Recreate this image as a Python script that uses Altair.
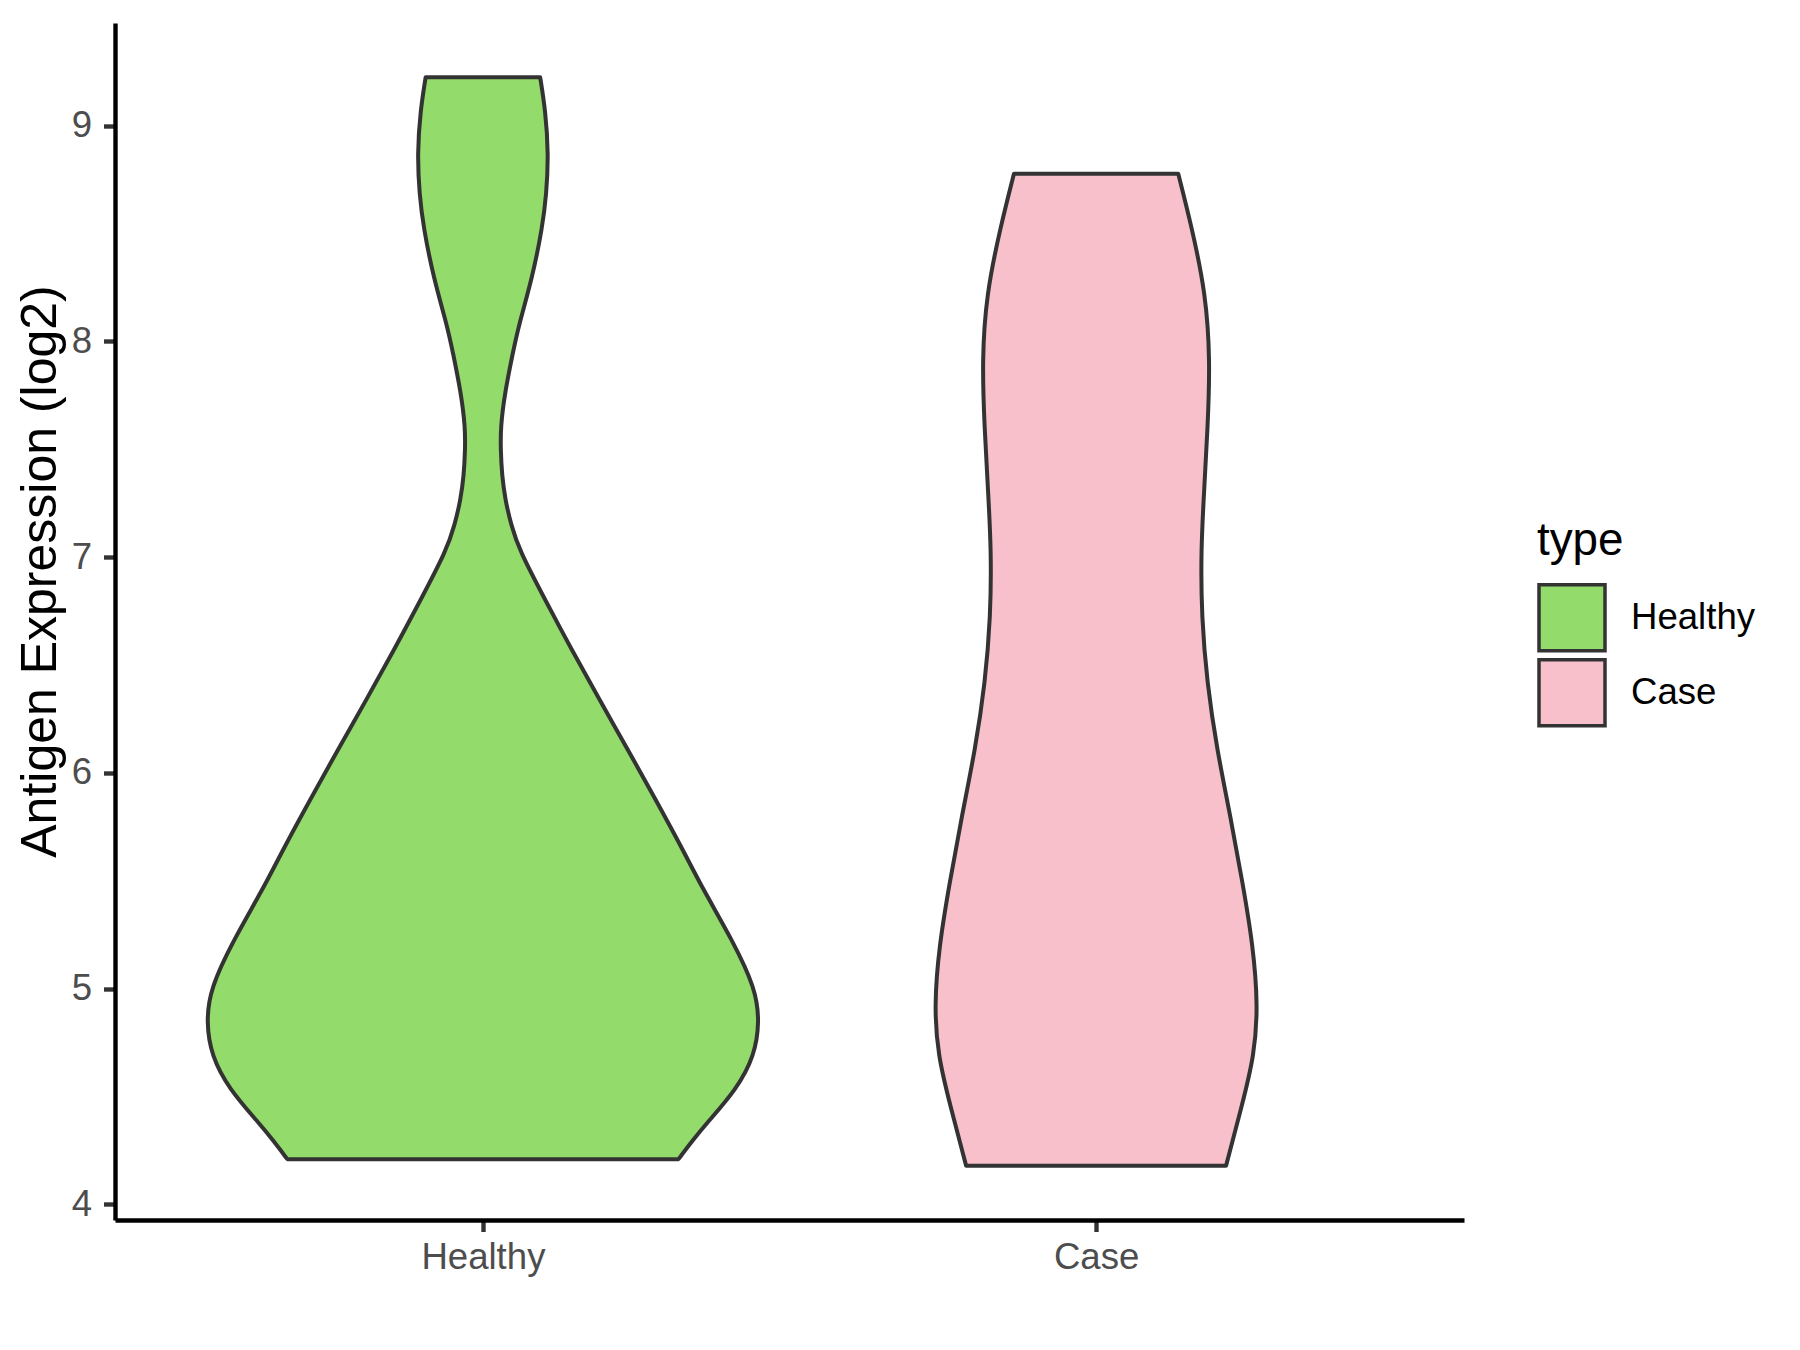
import altair as alt
import pandas as pd

# categories and colours
groups = ["Healthy", "Case"]
group_pos = [1, 2]
fill_colors = ["#93DB6A", "#F7C0CB"]

# violin outlines: expression value (log2) and half-width (in category units)
healthy_y = [4.21, 4.30, 4.38, 4.535, 4.69, 4.845, 5.00, 5.23, 5.46, 5.645, 5.88, 6.11, 6.34,
             6.57, 6.80, 7.034, 7.15, 7.265, 7.38, 7.50, 7.60, 7.76, 7.95, 8.07, 8.30, 8.53,
             8.68, 8.87, 9.07, 9.224]
healthy_hw = [0.319, 0.343, 0.366, 0.414, 0.443, 0.451, 0.445, 0.406, 0.359, 0.326, 0.281, 0.236,
              0.190, 0.145, 0.102, 0.059, 0.046, 0.0365, 0.031, 0.029, 0.0288, 0.0356, 0.049,
              0.058, 0.081, 0.097, 0.1035, 0.107, 0.102, 0.0934]

case_y = [4.18, 4.46, 4.69, 4.92, 5.20, 5.49, 5.80, 6.11, 6.417, 6.725, 7.03, 7.30, 7.60, 7.91,
          8.22, 8.53, 8.777]
case_hw = [0.212, 0.238, 0.258, 0.264, 0.256, 0.239, 0.219, 0.197, 0.181, 0.172, 0.171, 0.176,
           0.182, 0.186, 0.179, 0.156, 0.134]

y_ticks = [4, 5, 6, 7, 8, 9]

rows = []
for g, pos, ys, hws in [(groups[0], group_pos[0], healthy_y, healthy_hw),
                        (groups[1], group_pos[1], case_y, case_hw)]:
    for v, hw in zip(ys, hws):
        rows.append({"type": g, "value": v, "lo": pos - hw, "hi": pos + hw})
df = pd.DataFrame(rows)

label_expr = " : ".join(
    [f"datum.value == {p} ? '{g}'" for p, g in zip(group_pos[:-1], groups[:-1])]
) + f" : '{groups[-1]}'"

FONT = "Liberation Sans"

chart = alt.Chart(df).mark_area(
    orient="horizontal",
    interpolate="basis",
    stroke="#333333",
    strokeWidth=4,
    strokeJoin="round",
).encode(
    y=alt.Y(
        "value:Q",
        scale=alt.Scale(domain=[3.928, 9.476], nice=False, zero=False),
        axis=alt.Axis(
            values=y_ticks,
            format="d",
            title="Antigen Expression (log2)",
            titleFontSize=50,
            titleFontWeight="normal",
            titleColor="#000000",
            titleFont=FONT,
            titlePadding=6,
            titleY=548,
            labelPadding=12,
        ),
    ),
    x=alt.X(
        "lo:Q",
        scale=alt.Scale(domain=[0.4, 2.6], nice=False, zero=False),
        axis=alt.Axis(values=group_pos, labelExpr=label_expr, title="", labelPadding=8),
    ),
    x2="hi:Q",
    color=alt.Color(
        "type:N",
        scale=alt.Scale(domain=groups, range=fill_colors),
        legend=alt.Legend(
            title="type",
            orient="none",
            legendX=1422,
            legendY=496,
            symbolType="square",
            symbolSize=4356,
            symbolStrokeColor="#333333",
            symbolStrokeWidth=3.5,
            symbolOpacity=1,
            labelOffset=24,
            rowPadding=-9,
            titlePadding=18,
        ),
    ),
).properties(
    width=1349,
    height=1197,
    padding={"left": 7, "top": 15, "right": 5, "bottom": 5},
).configure_view(
    stroke=None
).configure_axis(
    grid=False,
    domainColor="#000000",
    domainWidth=4.4,
    tickColor="#333333",
    tickWidth=4.4,
    tickSize=11.5,
    labelColor="#4D4D4D",
    labelFontSize=36.6,
    labelFont=FONT,
).configure_legend(
    titleFontSize=45.8,
    titleFontWeight="normal",
    titleColor="#000000",
    titleFont=FONT,
    labelFontSize=36.6,
    labelColor="#000000",
    labelFont=FONT,
)

chart.save("out.html", embed_options={"renderer": "svg", "actions": False})
